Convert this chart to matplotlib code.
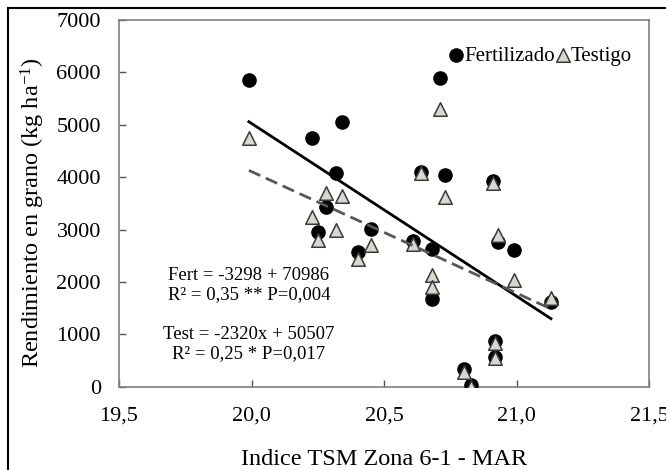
import numpy as np
import matplotlib
matplotlib.use('Agg')
import matplotlib.pyplot as plt
from matplotlib.lines import Line2D

plt.rcParams['font.family'] = ['Liberation Serif', 'DejaVu Serif']
plt.rcParams['mathtext.fontset'] = 'custom'
plt.rcParams['mathtext.rm'] = 'Liberation Serif'
plt.rcParams['mathtext.default'] = 'regular'

# Fertilizado (circles)
fert_x = [19.99, 20.23, 20.34, 20.32, 20.28, 20.25, 20.45, 20.40, 20.61, 20.68, 20.68,
          20.71, 20.64, 20.73, 20.91, 20.93, 20.99, 21.13, 20.92, 20.92, 20.80, 20.83]
fert_y = [5860, 4750, 5050, 4080, 3435, 2950, 3020, 2565, 2790, 2630, 1670,
          5890, 4100, 4040, 3920, 2770, 2610, 1620, 880, 570, 330, 30]

# Testigo (triangles)
test_x = [19.99, 20.28, 20.34, 20.23, 20.32, 20.25, 20.45, 20.40, 20.61, 20.68, 20.68,
          20.71, 20.64, 20.73, 20.91, 20.93, 20.99, 21.13, 20.92, 20.92, 20.80, 20.83]
test_y = [4740, 3690, 3645, 3245, 2990, 2800, 2705, 2430, 2717, 2130, 1900,
          5300, 4080, 3626, 3880, 2895, 2036, 1690, 830, 540, 290, 0]

# trend lines as given in the chart text
fert_slope, fert_icpt = -3298, 70986
test_slope, test_icpt = -2320, 50507

x_ticks = [19.5, 20.0, 20.5, 21.0, 21.5]
x_tick_labels = ['19,5', '20,0', '20,5', '21,0', '21,5']
y_ticks = [0, 1000, 2000, 3000, 4000, 5000, 6000, 7000]

fig = plt.figure(figsize=(6.66, 4.70), dpi=100)
ax = fig.add_axes([0.1787, 0.1772, 0.7958, 0.7802])

ax.scatter(fert_x, fert_y, s=90, marker='o', color='black', zorder=3, label='Fertilizado')
ax.scatter(test_x, test_y, s=95, marker='^', facecolor='#d8d8cf', edgecolor='#3a3a3a',
           linewidth=1.1, zorder=4, label='Testigo')

# regression lines
xf = np.array([min(fert_x), max(fert_x)])
ax.plot(xf, fert_slope * xf + fert_icpt, color='black', lw=2.0, zorder=5)
xt = np.array([min(test_x), max(test_x)])
ax.plot(xt, test_slope * xt + test_icpt, color='#575757', lw=2.0,
        dashes=(4.5, 2.2), zorder=5)

ax.set_xlim(19.5, 21.5)
ax.set_ylim(0, 7000)
ax.set_xticks(x_ticks)
ax.set_xticklabels(x_tick_labels)
ax.set_yticks(y_ticks)
ax.tick_params(axis='both', direction='in', length=5, width=1, color='#555555',
               labelsize=16)
ax.tick_params(axis='x', pad=14)
ax.tick_params(axis='y', pad=13)
for sp in ax.spines.values():
    sp.set_color('#808080')
    sp.set_linewidth(1.2)

ax.set_xlabel('Indice TSM Zona 6-1 - MAR', fontsize=17.5, labelpad=17.5)
ax.set_ylabel(r'Rendimiento en grano (kg ha$^{-1}$)', fontsize=17.5, labelpad=7)
ax.yaxis.label.set_y(0.475)

# equations
ax.text(19.99, 2132, 'Fert = -3298 + 70986', fontsize=13.5, ha='center', va='center')
ax.text(19.99, 1750, 'R² = 0,35 ** P=0,004', fontsize=13.5, ha='center', va='center')
ax.text(19.99, 1006, 'Test = -2320x + 50507', fontsize=13.5, ha='center', va='center')
ax.text(19.99, 624, 'R² = 0,25 * P=0,017', fontsize=13.5, ha='center', va='center')

ax.legend(loc='center right', ncol=2, frameon=False, fontsize=15,
          handletextpad=-0.1, columnspacing=-0.15, handlelength=1.0,
          borderpad=0, borderaxespad=0, bbox_to_anchor=(0.968, 0.902))

# outer frame of the figure (cropped on the right and bottom)
fig.add_artist(Line2D([8 / 666, 1.0], [1 - 8 / 470, 1 - 8 / 470],
                      transform=fig.transFigure, color='black', lw=1.5))
fig.add_artist(Line2D([8 / 666, 8 / 666], [0.0, 1 - 8 / 470],
                      transform=fig.transFigure, color='black', lw=1.5))

fig.savefig('out.png', dpi=100)
